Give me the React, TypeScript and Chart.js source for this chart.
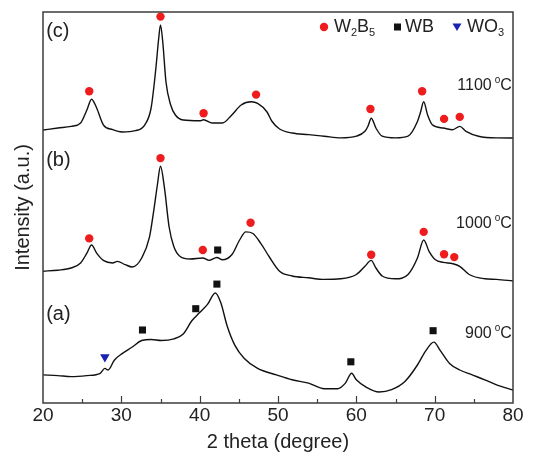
import React, { useEffect, useRef } from "react";
import { Chart, registerables } from "chart.js";

Chart.register(...registerables);

// ---- Data (2 theta in degrees, intensity in arbitrary offset units) ----
const thetaC = [20.0, 21.9, 23.6, 24.8, 25.6, 26.2, 26.85, 27.7, 28.9, 30.1, 31.8, 33.0, 33.8, 34.4, 34.75, 35.0, 35.3, 35.7, 36.3, 36.9, 37.9, 40.0, 40.5, 41.6, 42.9, 44.1, 45.3, 46.6, 47.4, 48.6, 49.2, 50.2, 51.8, 53.9, 55.9, 58.0, 60.0, 61.1, 61.5, 61.9, 62.5, 63.3, 65.0, 66.6, 67.8, 68.2, 68.6, 69.1, 69.7, 71.1, 72.3, 73.2, 74.0, 75.6, 77.9, 80.0];
const intensityC = [273, 275, 276.6, 280, 293, 303.8, 295, 278.2, 273.3, 271, 272.3, 278.2, 295, 334, 363, 378, 360, 321, 298, 288, 283, 282.2, 283.2, 280, 280, 288, 298, 301.2, 299.6, 291, 282, 274, 270, 268.4, 266.8, 265.1, 266.8, 271.7, 277, 284.8, 275, 266.8, 265.1, 266.8, 281.5, 291, 301.2, 288, 278.2, 275, 273.3, 276.6, 271.7, 266.8, 265.1, 265];

const thetaB = [20.0, 21.9, 23.6, 24.8, 25.6, 26.2, 26.85, 27.7, 28.9, 29.5, 30.5, 31.4, 32.6, 33.6, 34.2, 34.6, 35.0, 35.5, 36.1, 36.7, 37.5, 38.8, 40.4, 41.2, 42.2, 42.9, 44.1, 45.1, 45.9, 46.8, 47.8, 48.9, 50.2, 51.8, 53.9, 55.9, 58.0, 60.0, 61.1, 61.9, 62.5, 63.3, 65.0, 66.6, 67.8, 68.6, 69.3, 70.1, 71.1, 72.3, 73.2, 74.4, 76.4, 77.9, 80.0];
const intensityB = [131.8, 132.8, 135, 140, 149.8, 158, 149.8, 142.6, 140, 141.6, 138.3, 136, 145, 166.2, 195.7, 218, 236.7, 215.4, 176, 156.4, 146.5, 144, 145, 142.6, 145.5, 143.2, 148.2, 163, 171.1, 169.5, 159.6, 146, 131.8, 127, 125.2, 123.6, 124.2, 128.5, 136.7, 142.6, 135, 127, 124.2, 128.5, 145, 163, 151.4, 143.2, 140.6, 139.3, 136.7, 128.5, 124.2, 123.6, 122];

const thetaA = [20.0, 21.9, 23.6, 25.6, 27.3, 27.9, 28.3, 29.1, 30.1, 31.4, 32.6, 33.8, 35.1, 36.7, 37.9, 39.0, 40.0, 41.0, 42.0, 42.7, 43.5, 44.5, 45.7, 47.4, 49.8, 51.8, 53.9, 55.9, 57.6, 58.6, 59.4, 60.0, 61.3, 62.9, 64.5, 66.2, 67.8, 68.9, 69.9, 70.7, 71.9, 73.2, 74.8, 76.4, 77.9, 80.0];
const intensityA = [28.1, 27.4, 26.4, 27.4, 29.7, 34.6, 33, 42.8, 49.4, 56, 62.5, 63.5, 62.5, 64.1, 69, 82.2, 90.4, 98.6, 110, 100.2, 77.3, 57.6, 44.5, 34.6, 28.1, 23.2, 19.9, 14.3, 14.3, 19.9, 29.7, 23.2, 15.6, 11, 13.3, 21.5, 38, 52.7, 60.9, 52.7, 39.6, 33, 28.1, 23.2, 18.2, 13];

// Phase markers
const w2b5Theta = [25.9, 35.0, 40.5, 47.2, 61.8, 68.4, 71.2, 73.2, 25.9, 35.0, 40.4, 46.5, 61.9, 68.6, 71.2, 72.5];
const w2b5Y = [311.7, 386.4, 289.7, 308.4, 294, 311.7, 284.1, 286.1, 164.6, 244.9, 153, 180.3, 148.2, 171.1, 148.8, 145.9];
const wbTheta = [42.3, 32.7, 39.5, 42.2, 59.3, 69.8];
const wbY = [153, 73, 94.3, 118.9, 41.2, 72.3];
const wo3Theta = [27.9];
const wo3Y = [46.1];

// Text labels
const panelLabels = ["(a)", "(b)", "(c)"];
const tempLabels = ["900", "1000", "1100"];
const xTitle = "2 theta (degree)";
const yTitle = "Intensity (a.u.)";

const FONT = "'Liberation Sans', Arial, Helvetica, sans-serif";
const TEXT = "#222222";

const zip = (xs: number[], ys: number[]) => xs.map((x, i) => ({ x, y: ys[i] }));

type Part = { text: string; size: number; dy: number; gap?: number };

function drawRich(ctx: CanvasRenderingContext2D, parts: Part[], x: number, y: number, align: "left" | "right") {
  let w = 0;
  for (const p of parts) {
    ctx.font = `${p.size}px ${FONT}`;
    w += ctx.measureText(p.text).width + (p.gap || 0);
  }
  let cx = align === "right" ? x - w : x;
  ctx.textAlign = "left";
  ctx.textBaseline = "middle";
  for (const p of parts) {
    ctx.font = `${p.size}px ${FONT}`;
    ctx.fillText(p.text, cx, y + p.dy);
    cx += ctx.measureText(p.text).width + (p.gap || 0);
  }
}

const overlayPlugin = {
  id: "overlay",
  afterDatasetsDraw(chart: any) {
    const { ctx, chartArea: a, scales } = chart;
    const xs = scales.x;
    const ys = scales.y;
    ctx.save();
    // frame
    ctx.strokeStyle = "#3c3c3c";
    ctx.lineWidth = 1.5;
    ctx.strokeRect(a.left, a.top, a.right - a.left, a.bottom - a.top);
    // inward ticks on bottom axis
    ctx.lineWidth = 1.2;
    for (const t of xs.ticks) {
      const v = t.value;
      if (v <= xs.min || v >= xs.max) continue;
      const px = Math.round(xs.getPixelForValue(v)) + 0.5;
      const len = v % 10 === 0 ? 7 : 4;
      ctx.beginPath();
      ctx.moveTo(px, a.bottom);
      ctx.lineTo(px, a.bottom - len);
      ctx.stroke();
    }
    ctx.fillStyle = TEXT;
    // panel labels
    const panelY = [89, 243, 372];
    panelLabels.forEach((lab, i) => {
      drawRich(ctx, [{ text: lab, size: 20, dy: 0 }], xs.getPixelForValue(20.4), ys.getPixelForValue(panelY[i]), "left");
    });
    // temperature labels
    const tempY = [69, 179, 317];
    tempLabels.forEach((lab, i) => {
      drawRich(
        ctx,
        [
          { text: lab, size: 16, dy: 0, gap: 3 },
          { text: "o", size: 10, dy: -6 },
          { text: "C", size: 16, dy: 0 },
        ],
        xs.getPixelForValue(79.85),
        ys.getPixelForValue(tempY[i]),
        "right"
      );
    });
    // legend
    const ly = a.top + 15;
    ctx.fillStyle = "#ee1c1c";
    ctx.beginPath();
    ctx.arc(a.left + 281, ly, 4.2, 0, Math.PI * 2);
    ctx.fill();
    ctx.fillStyle = TEXT;
    drawRich(
      ctx,
      [
        { text: "W", size: 18, dy: 0 },
        { text: "2", size: 11, dy: 6 },
        { text: "B", size: 18, dy: 0 },
        { text: "5", size: 11, dy: 6 },
      ],
      a.left + 291,
      ly,
      "left"
    );
    ctx.fillStyle = "#111111";
    ctx.fillRect(a.left + 351, ly - 3.5, 7, 7);
    ctx.fillStyle = TEXT;
    drawRich(ctx, [{ text: "WB", size: 18, dy: 0 }], a.left + 362, ly, "left");
    ctx.fillStyle = "#1a22b0";
    ctx.beginPath();
    ctx.moveTo(a.left + 409.5, ly - 3.5);
    ctx.lineTo(a.left + 418.5, ly - 3.5);
    ctx.lineTo(a.left + 414, ly + 4);
    ctx.closePath();
    ctx.fill();
    ctx.fillStyle = TEXT;
    drawRich(
      ctx,
      [
        { text: "WO", size: 18, dy: 0 },
        { text: "3", size: 11, dy: 6 },
      ],
      a.left + 424,
      ly,
      "left"
    );
    ctx.restore();
  },
};

export default function App() {
  const ref = useRef<HTMLCanvasElement>(null);

  useEffect(() => {
    if (!ref.current) return;
    const lineDs = (xs: number[], ys: number[]) => ({
      type: "line" as const,
      data: zip(xs, ys),
      borderColor: "#111111",
      borderWidth: 1.4,
      pointRadius: 0,
      fill: false,
      cubicInterpolationMode: "monotone" as const,
    });
    const chart = new Chart(ref.current, {
      type: "line",
      data: {
        datasets: [
          lineDs(thetaC, intensityC),
          lineDs(thetaB, intensityB),
          lineDs(thetaA, intensityA),
          {
            type: "scatter",
            data: zip(w2b5Theta, w2b5Y),
            showLine: false,
            pointStyle: "circle",
            pointRadius: 4.2,
            backgroundColor: "#ee1c1c",
            borderColor: "#ee1c1c",
            borderWidth: 0,
            clip: false,
          } as any,
          {
            type: "scatter",
            data: zip(wbTheta, wbY),
            showLine: false,
            pointStyle: "rect",
            pointRadius: 5,
            backgroundColor: "#111111",
            borderColor: "#111111",
            borderWidth: 0,
            clip: false,
          } as any,
          {
            type: "scatter",
            data: zip(wo3Theta, wo3Y),
            showLine: false,
            pointStyle: "triangle",
            rotation: 180,
            pointRadius: 5.5,
            backgroundColor: "#1a22b0",
            borderColor: "#1a22b0",
            borderWidth: 0,
            clip: false,
          } as any,
        ],
      },
      options: {
        animation: false,
        responsive: false,
        maintainAspectRatio: false,
        layout: { padding: { top: 12, right: 28, left: 0, bottom: 0 } },
        plugins: { legend: { display: false }, tooltip: { enabled: false } },
        scales: {
          x: {
            type: "linear",
            min: 20,
            max: 80,
            afterFit: (s: any) => {
              s.height = 60;
            },
            ticks: {
              stepSize: 5,
              autoSkip: false,
              maxRotation: 0,
              padding: 1,
              color: TEXT,
              font: { family: FONT, size: 19 },
              callback: (v: any) => (Number(v) % 10 === 0 ? String(v) : ""),
            },
            grid: { display: false, drawTicks: false },
            border: { display: false },
            title: {
              display: true,
              text: xTitle,
              color: TEXT,
              font: { family: FONT, size: 20 },
              padding: { top: 0, bottom: 9 },
            },
          },
          y: {
            type: "linear",
            min: 0,
            max: 391,
            afterFit: (s: any) => {
              s.width = 43;
            },
            ticks: { display: false },
            grid: { display: false, drawTicks: false },
            border: { display: false },
            title: {
              display: true,
              text: yTitle,
              color: TEXT,
              font: { family: FONT, size: 20 },
              padding: { top: 11, bottom: 0 },
            },
          },
        },
      },
      plugins: [overlayPlugin],
    });
    return () => chart.destroy();
  }, []);

  return (
    <div style={{ position: "fixed", left: 0, top: 0, width: 541, height: 463, background: "#fff" }}>
      <canvas ref={ref} width={541} height={463} style={{ display: "block", width: 541, height: 463 }} />
    </div>
  );
}
